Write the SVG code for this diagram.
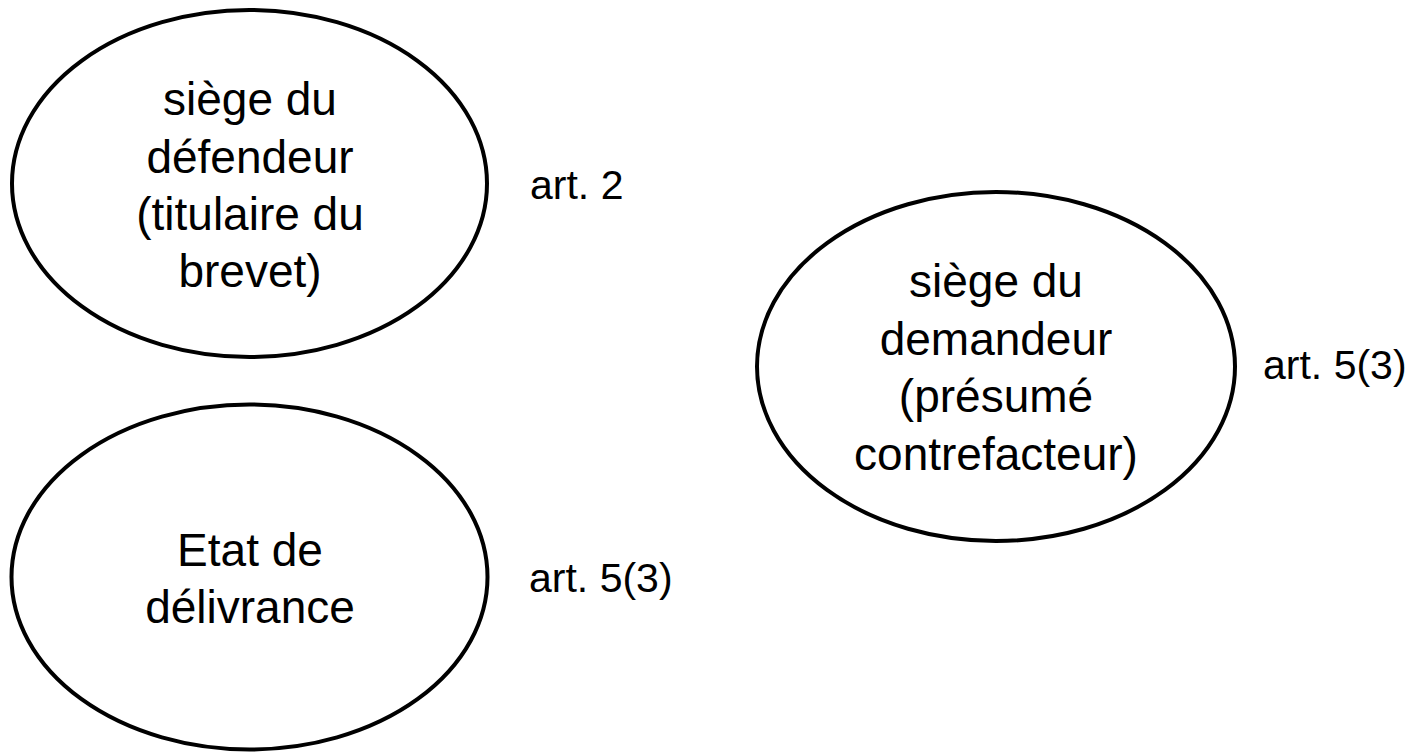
<svg xmlns="http://www.w3.org/2000/svg" width="1420" height="752" viewBox="0 0 1420 752">
  <style>
    .node { fill: #ffffff; stroke: #000000; stroke-width: 4; }
    .label { font-family: "Liberation Sans", Arial, sans-serif; font-size: 46px; fill: #000000; text-anchor: middle; }
    .art { font-family: "Liberation Sans", Arial, sans-serif; font-size: 41px; fill: #000000; }
  </style>
  <rect width="1420" height="752" fill="#ffffff"/>

  <g id="defendeur">
    <ellipse class="node" cx="249.5" cy="183.5" rx="237.5" ry="173.5"/>
    <text class="label" x="250" y="115">siège du</text>
    <text class="label" x="250" y="173">défendeur</text>
    <text class="label" x="250" y="230">(titulaire du</text>
    <text class="label" x="250" y="287">brevet)</text>
  </g>

  <g id="etat-delivrance">
    <ellipse class="node" cx="249.5" cy="577" rx="238" ry="172.5"/>
    <text class="label" x="250" y="566">Etat de</text>
    <text class="label" x="250" y="623">délivrance</text>
  </g>

  <g id="demandeur">
    <ellipse class="node" cx="996" cy="366.5" rx="239" ry="174.5"/>
    <text class="label" x="996" y="297">siège du</text>
    <text class="label" x="996" y="355">demandeur</text>
    <text class="label" x="996" y="412">(présumé</text>
    <text class="label" x="996" y="470">contrefacteur)</text>
  </g>

  <g id="connectors"/>

  <g id="articles">
    <text class="art" x="530" y="199">art. 2</text>
    <text class="art" x="529" y="592">art. 5(3)</text>
    <text class="art" x="1263" y="379">art. 5(3)</text>
  </g>
</svg>
